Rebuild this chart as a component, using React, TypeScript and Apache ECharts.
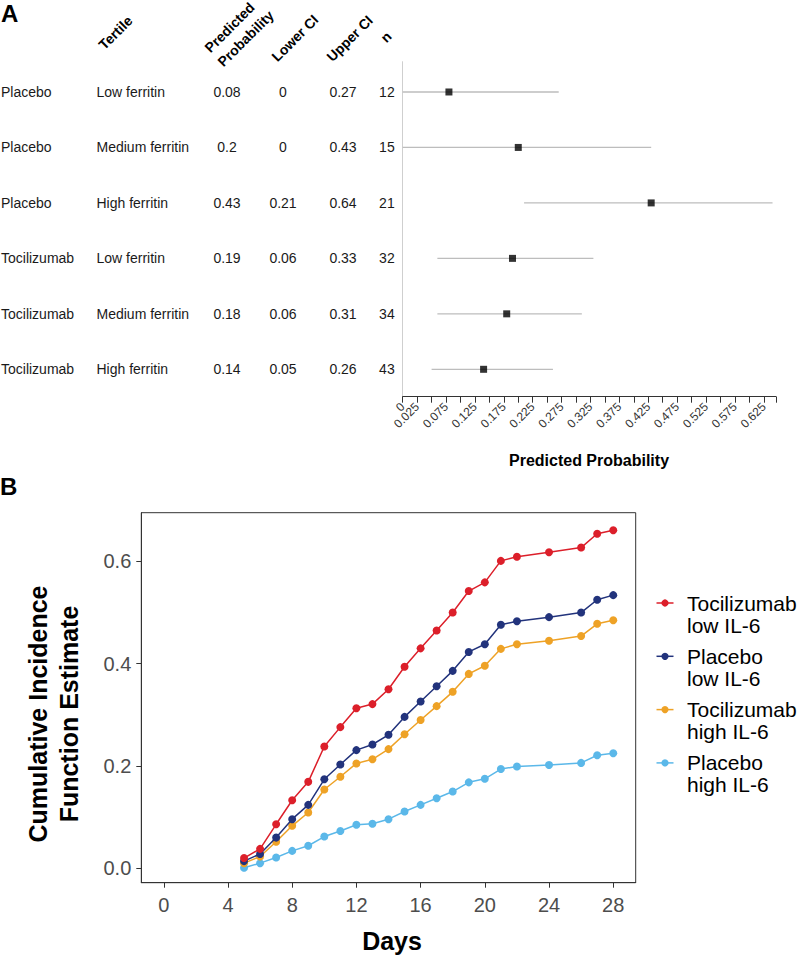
import React, { useEffect, useRef } from "react";
import * as echarts from "echarts";

const FONT = "'Liberation Sans', Arial, Helvetica, sans-serif";

// ---------- Panel A data ----------
const treatments = ["Placebo", "Placebo", "Placebo", "Tocilizumab", "Tocilizumab", "Tocilizumab"];
const tertiles = ["Low ferritin", "Medium ferritin", "High ferritin", "Low ferritin", "Medium ferritin", "High ferritin"];
const predicted = [0.08, 0.2, 0.43, 0.19, 0.18, 0.14];
const lowerCI = [0, 0, 0.21, 0.06, 0.06, 0.05];
const upperCI = [0.27, 0.43, 0.64, 0.33, 0.31, 0.26];
const nValues = [12, 15, 21, 32, 34, 43];
const probTicks = [0, 0.025, 0.05, 0.075, 0.1, 0.125, 0.15, 0.175, 0.2, 0.225, 0.25, 0.275, 0.3, 0.325, 0.35, 0.375, 0.4, 0.425, 0.45, 0.475, 0.5, 0.525, 0.55, 0.575, 0.6, 0.625];
const probLabels = [0, 0.025, 0.075, 0.125, 0.175, 0.225, 0.275, 0.325, 0.375, 0.425, 0.475, 0.525, 0.575, 0.625];
const headers = ["Tertile", "Predicted", "Probability", "Lower CI", "Upper CI", "n"];

// ---------- Panel B data ----------
const days = [5, 6, 7, 8, 9, 10, 11, 12, 13, 14, 15, 16, 17, 18, 19, 20, 21, 22, 24, 26, 27, 28];
const tociLow = [0.02, 0.038, 0.086, 0.133, 0.169, 0.238, 0.276, 0.313, 0.321, 0.35, 0.394, 0.43, 0.465, 0.5, 0.542, 0.559, 0.601, 0.609, 0.618, 0.627, 0.654, 0.661];
const placeboLow = [0.014, 0.028, 0.06, 0.096, 0.124, 0.174, 0.203, 0.231, 0.242, 0.261, 0.296, 0.326, 0.356, 0.386, 0.423, 0.438, 0.476, 0.483, 0.491, 0.5, 0.525, 0.534];
const tociHigh = [0.01, 0.023, 0.052, 0.083, 0.109, 0.154, 0.179, 0.205, 0.213, 0.233, 0.262, 0.29, 0.317, 0.345, 0.38, 0.396, 0.429, 0.438, 0.445, 0.454, 0.478, 0.485];
const placeboHigh = [0.001, 0.01, 0.021, 0.034, 0.044, 0.062, 0.073, 0.085, 0.087, 0.096, 0.111, 0.124, 0.137, 0.15, 0.168, 0.175, 0.194, 0.199, 0.202, 0.206, 0.221, 0.225];
const seriesNames = ["Tocilizumab\nlow IL-6", "Placebo\nlow IL-6", "Tocilizumab\nhigh IL-6", "Placebo\nhigh IL-6"];
const seriesValues = [tociLow, placeboLow, tociHigh, placeboHigh];
const seriesColors = ["#DC1F2A", "#22337C", "#EEA226", "#5BB8E9"];
const dayTicks = [0, 4, 8, 12, 16, 20, 24, 28];
const cifTicks = [0, 0.2, 0.4, 0.6];

const FOREST_MAX = 0.646;

function txt(x: number, y: number, text: string, opts: any = {}) {
  const align = opts.align || "left";
  const valign = opts.valign || "middle";
  return {
    type: "text",
    x,
    y,
    rotation: opts.rotation || 0,
    silent: true,
    style: {
      text,
      fontSize: opts.fontSize || 14,
      fontWeight: opts.bold ? "bold" : "normal",
      fontFamily: FONT,
      fill: opts.color || "#1a1a1a",
      align,
      textAlign: align,
      verticalAlign: valign,
      textVerticalAlign: valign,
      lineHeight: opts.lineHeight,
    },
  };
}

const forestLabelStyle = {
  rotate: 45,
  interval: 0,
  hideOverlap: false,
  fontSize: 12,
  color: "#333333",
  margin: 8,
  fontFamily: FONT,
  formatter: (v: number) => String(v),
};

export default function App() {
  const ref = useRef<HTMLDivElement>(null);

  useEffect(() => {
    if (!ref.current) return;
    const chart = echarts.init(ref.current, null, { renderer: "svg" });
    const rowIdx = treatments.map((_, i) => i);

    const option: any = {
      animation: false,
      backgroundColor: "#ffffff",
      textStyle: { fontFamily: FONT },
      grid: [
        { left: 402.7, top: 61.7, width: 373.3, height: 335, show: false },
        { left: 141.3, top: 512.7, width: 494.4, height: 370, show: true, borderColor: "#333333", borderWidth: 1, backgroundColor: "transparent" },
      ],
      xAxis: [
        {
          type: "value",
          gridIndex: 0,
          min: 0,
          max: FOREST_MAX,
          position: "bottom",
          axisLine: { show: true, onZero: false, lineStyle: { color: "#333333", width: 1 } },
          axisTick: { show: true, length: 6, customValues: [...probTicks, FOREST_MAX], lineStyle: { color: "#333333" } },
          axisLabel: { ...forestLabelStyle, customValues: probLabels.filter((v) => v > 0) },
          splitLine: { show: false },
        },
        {
          type: "value",
          gridIndex: 1,
          min: -1.4,
          max: 29.4,
          position: "bottom",
          axisLine: { show: true, onZero: false, lineStyle: { color: "#333333" } },
          axisTick: { show: true, length: 5, customValues: dayTicks, lineStyle: { color: "#333333" } },
          axisLabel: { customValues: dayTicks, fontSize: 20, color: "#4d4d4d", margin: 12, fontFamily: FONT },
          splitLine: { show: false },
        },
        {
          // carries only the "0" label of the forest axis (avoids min-label overlap hiding)
          type: "value",
          gridIndex: 0,
          min: 0,
          max: FOREST_MAX,
          position: "bottom",
          offset: 0,
          axisLine: { show: false, onZero: false },
          axisTick: { show: false },
          axisLabel: { ...forestLabelStyle, customValues: probLabels.filter((v) => v === 0) },
          splitLine: { show: false },
        },
      ],
      yAxis: [
        {
          type: "value",
          gridIndex: 0,
          inverse: true,
          min: -0.546,
          max: 5.494,
          position: "left",
          axisLine: { show: true, onZero: false, lineStyle: { color: "#cfcfcf", width: 1 } },
          axisTick: { show: false },
          axisLabel: {
            customValues: rowIdx,
            fontSize: 14,
            color: "#1a1a1a",
            margin: 8,
            fontFamily: FONT,
            formatter: (v: number) => String(nValues[Math.round(v)]),
          },
          splitLine: { show: false },
        },
        {
          type: "value",
          gridIndex: 1,
          min: -0.0282,
          max: 0.6952,
          position: "left",
          axisLine: { show: true, onZero: false, lineStyle: { color: "#333333" } },
          axisTick: { show: true, length: 5, customValues: cifTicks, lineStyle: { color: "#333333" } },
          axisLabel: {
            customValues: cifTicks,
            fontSize: 20,
            color: "#4d4d4d",
            margin: 10,
            fontFamily: FONT,
            formatter: (v: number) => v.toFixed(1),
          },
          splitLine: { show: false },
        },
      ],
      series: [
        {
          type: "custom",
          xAxisIndex: 0,
          yAxisIndex: 0,
          data: rowIdx.map((i) => [lowerCI[i], upperCI[i], i]),
          encode: { x: [0, 1], y: 2 },
          renderItem: (params: any, api: any) => {
            const a = api.coord([api.value(0), api.value(2)]);
            const b = api.coord([api.value(1), api.value(2)]);
            return {
              type: "line",
              shape: { x1: a[0], y1: a[1], x2: b[0], y2: b[1] },
              style: { stroke: "#bdbdbd", lineWidth: 1.3 },
            };
          },
          z: 2,
        },
        {
          type: "scatter",
          xAxisIndex: 0,
          yAxisIndex: 0,
          symbol: "rect",
          symbolSize: 7,
          itemStyle: { color: "#000000" },
          data: rowIdx.map((i) => [predicted[i], i]),
          z: 3,
        },
        ...seriesValues.map((vals, si) => ({
          type: "line",
          name: seriesNames[si],
          xAxisIndex: 1,
          yAxisIndex: 1,
          data: days.map((d, i) => [d, vals[i]]),
          symbol: "circle",
          symbolSize: 8,
          showSymbol: true,
          lineStyle: { color: seriesColors[si], width: 1.5 },
          itemStyle: { color: seriesColors[si] },
          z: 5 + (3 - si),
        })),
      ],
    };

    chart.setOption(option);

    // ---- graphics (table, titles, legend) ----
    const g: any[] = [];
    g.push(txt(1, 13, "A", { bold: true, fontSize: 24, color: "#000" }));
    g.push(txt(0, 486, "B", { bold: true, fontSize: 24, color: "#000" }));

    const rot = Math.PI / 4;
    const headerPos = [
      [106, 52],
      [212, 55],
      [225, 69],
      [279, 64],
      [334, 64],
      [388, 45],
    ];
    headers.forEach((h, i) => {
      g.push(txt(headerPos[i][0], headerPos[i][1], h, { bold: true, fontSize: 14, rotation: rot, valign: "bottom", color: "#000" }));
    });

    rowIdx.forEach((i) => {
      const p = chart.convertToPixel({ xAxisIndex: 0, yAxisIndex: 0 } as any, [0, i]) as number[];
      const y = p[1];
      g.push(txt(1, y, treatments[i], { fontSize: 14 }));
      g.push(txt(96.5, y, tertiles[i], { fontSize: 14 }));
      g.push(txt(227, y, String(predicted[i]), { fontSize: 14, align: "center" }));
      g.push(txt(283, y, String(lowerCI[i]), { fontSize: 14, align: "center" }));
      g.push(txt(343, y, String(upperCI[i]), { fontSize: 14, align: "center" }));
    });

    g.push(txt(589, 460, "Predicted Probability", { bold: true, fontSize: 16, align: "center", color: "#000" }));

    // Panel B axis titles
    g.push(txt(37.5, 714, "Cumulative Incidence", { bold: true, fontSize: 25, align: "center", rotation: Math.PI / 2, color: "#000" }));
    g.push(txt(69, 714, "Function Estimate", { bold: true, fontSize: 25, align: "center", rotation: Math.PI / 2, color: "#000" }));
    g.push(txt(392, 941, "Days", { bold: true, fontSize: 25, align: "center", color: "#000" }));

    // Legend
    seriesNames.forEach((name, i) => {
      const y = 603 + i * 53.3;
      g.push({ type: "line", silent: true, shape: { x1: 656.5, y1: y, x2: 673.5, y2: y }, style: { stroke: seriesColors[i], lineWidth: 1.5 } });
      g.push({ type: "circle", silent: true, shape: { cx: 665, cy: y, r: 3.6 }, style: { fill: seriesColors[i] } });
      g.push(txt(687, y - 11, name, { fontSize: 21, valign: "top", lineHeight: 22, color: "#000" }));
    });

    chart.setOption({ graphic: g });

    return () => chart.dispose();
  }, []);

  return <div ref={ref} style={{ position: "absolute", left: 0, top: 0, width: 800, height: 957 }} />;
}
